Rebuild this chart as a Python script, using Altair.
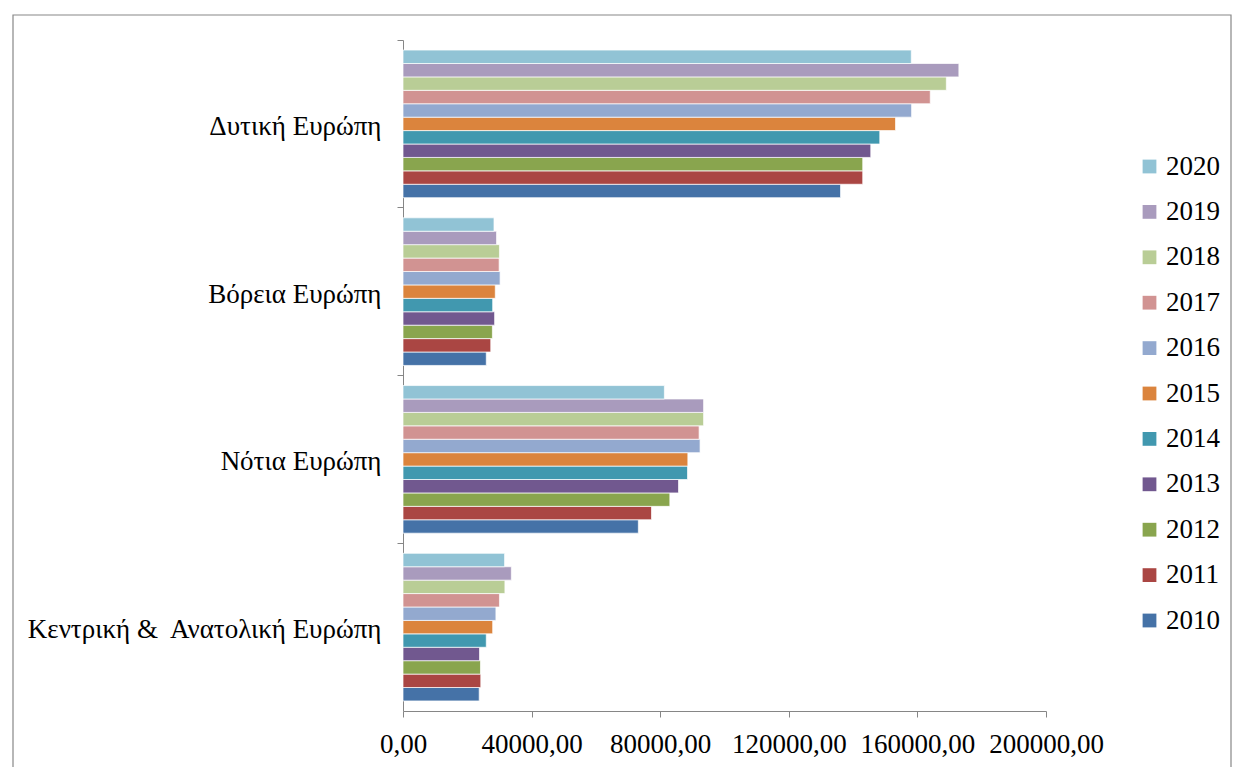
import altair as alt
import pandas as pd

regions = ["Δυτική Ευρώπη", "Βόρεια Ευρώπη", "Νότια Ευρώπη", "Κεντρική &\u00a0 Ανατολική Ευρώπη"]
years = ["2010", "2011", "2012", "2013", "2014", "2015", "2016", "2017", "2018", "2019", "2020"]
colors = ["#4572A7", "#AA4643", "#89A54E", "#71588F", "#4198AF", "#DB843D",
          "#93A9CF", "#D19392", "#B9CD96", "#A99BBD", "#91C3D5"]

western = [136100, 143000, 143000, 145500, 148300, 153200, 158200, 164000, 169000, 172900, 158100]
northern = [25900, 27300, 27800, 28500, 27900, 28700, 30200, 29900, 30000, 29100, 28300]
southern = [73200, 77300, 83000, 85700, 88500, 88600, 92400, 92100, 93500, 93500, 81300]
central = [23700, 24200, 24100, 23800, 25900, 27900, 28900, 30000, 31700, 33700, 31600]

rows = []
for reg, vals in zip(regions, [western, northern, southern, central]):
    for y, v in zip(years, vals):
        rows.append({"region": reg, "year": y, "value": v})
df = pd.DataFrame(rows)

serif = "Liberation Serif"
fs = 27

bars = alt.Chart(df).mark_bar(stroke="white", strokeWidth=1, strokeOpacity=0.7).encode(
    x=alt.X("value:Q", scale=alt.Scale(domain=[0, 200000], nice=False),
            axis=alt.Axis(values=[0, 40000, 80000, 120000, 160000, 200000],
                          labelExpr="replace(format(datum.value, '.2f'), '.', ',')",
                          labelOverlap=False, labelFlush=False,
                          title=None, grid=False, tickSize=6, labelPadding=14,
                          domainColor="#868686", tickColor="#868686",
                          labelFont=serif, labelFontSize=fs, labelColor="black")),
    y=alt.Y("region:N", sort=regions,
            scale=alt.Scale(paddingInner=0, paddingOuter=0),
            axis=alt.Axis(title=None, bandPosition=0, tickSize=6, labelPadding=16,
                          labelLimit=0, labelOffset=3,
                          domainColor="#868686", tickColor="#868686",
                          labelFont=serif, labelFontSize=fs, labelColor="black")),
    yOffset=alt.YOffset("year:N", sort="descending",
                        scale=alt.Scale(paddingInner=0, paddingOuter=0.75)),
    color=alt.Color("year:N", scale=alt.Scale(domain=years[::-1], range=colors[::-1]),
                    legend=alt.Legend(title=None, orient="none", legendX=733, legendY=113,
                                      padding=0,
                                      symbolType="square", symbolSize=190,
                                      symbolStrokeWidth=0,
                                      labelFont=serif, labelFontSize=fs, labelColor="black",
                                      rowPadding=17.4, labelOffset=3)),
)

border = alt.Chart(pd.DataFrame({"a": [0]})).mark_rect(
    fill=None, stroke="#888888", strokeWidth=1.2, clip=False
).encode(x=alt.value(-390), x2=alt.value(828), y=alt.value(-25), y2=alt.value(740))

chart = alt.layer(border, bars).properties(
    width=643, height=671,
    autosize=alt.AutoSizeParams(type="none"),
    padding={"left": 403, "top": 40, "right": 188, "bottom": 56},
    background="white",
).configure_view(stroke=None)

chart.save("out.html", embed_options={"renderer": "svg", "actions": False})
